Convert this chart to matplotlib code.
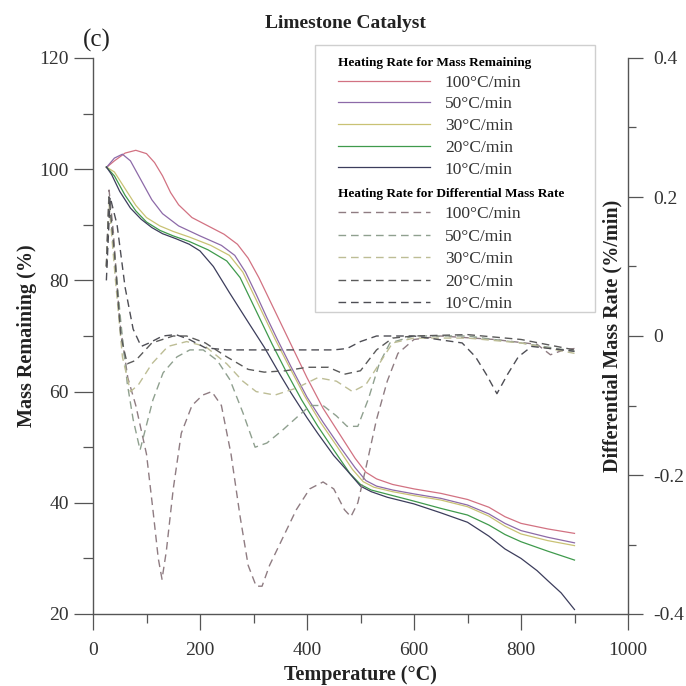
import matplotlib
matplotlib.use("Agg")
import matplotlib.pyplot as plt
from matplotlib.patches import Rectangle
from matplotlib.ticker import MultipleLocator

plt.rcParams['font.family'] = ['Liberation Serif', 'DejaVu Serif']
plt.rcParams['axes.unicode_minus'] = False

# ---------------- data ----------------
rates = ["100°C/min", "50°C/min", "30°C/min", "20°C/min", "10°C/min"]

# Mass remaining (%) vs temperature (°C)
m100_T = [25, 40, 60, 80, 100, 115, 130, 145, 160, 185, 215, 245, 270, 290, 310, 330, 350, 370, 400, 430, 460, 490, 510, 530, 560, 600, 650, 700, 740, 770, 800, 850, 900]
m100_M = [100.3, 101.5, 102.9, 103.4, 102.8, 101.2, 98.8, 95.8, 93.6, 91.3, 89.8, 88.3, 86.5, 84.0, 80.5, 76.5, 72.5, 68.5, 62.5, 57.0, 52.5, 48.0, 45.5, 44.3, 43.3, 42.5, 41.7, 40.6, 39.2, 37.5, 36.3, 35.3, 34.5]

m50_T = [25, 40, 55, 70, 90, 110, 130, 160, 200, 240, 265, 285, 305, 325, 345, 370, 400, 430, 460, 490, 510, 530, 560, 600, 650, 700, 740, 770, 800, 850, 900]
m50_M = [100.3, 102.0, 102.7, 101.5, 98.0, 94.5, 92.0, 89.8, 88.0, 86.3, 84.5, 81.5, 77.5, 73.3, 69.3, 64.5, 59.0, 54.5, 50.3, 46.3, 44.0, 43.0, 42.3, 41.6, 40.8, 39.6, 38.0, 36.3, 35.0, 33.8, 32.8]

m30_T = [25, 40, 60, 80, 100, 125, 150, 180, 220, 255, 280, 300, 320, 340, 365, 395, 425, 455, 485, 505, 525, 560, 600, 650, 700, 740, 770, 800, 850, 900]
m30_M = [100.4, 99.5, 96.5, 93.5, 91.3, 89.8, 88.8, 87.8, 86.3, 84.5, 81.5, 77.5, 73.5, 69.5, 64.8, 59.3, 54.5, 50.3, 46.0, 43.8, 42.8, 42.0, 41.3, 40.5, 39.3, 37.6, 35.8, 34.4, 33.2, 32.3]

m20_T = [25, 40, 60, 80, 100, 125, 150, 180, 215, 250, 275, 295, 315, 335, 360, 390, 420, 450, 480, 500, 520, 560, 600, 650, 700, 740, 770, 800, 850, 900]
m20_M = [100.4, 98.8, 95.3, 92.5, 90.5, 89.0, 88.0, 87.0, 85.5, 83.5, 80.5, 76.5, 72.5, 68.5, 63.8, 58.5, 53.8, 49.5, 45.3, 43.3, 42.3, 41.3, 40.3, 39.0, 37.8, 36.0, 34.3, 33.0, 31.3, 29.7]

m10_T = [25, 35, 50, 70, 90, 110, 130, 155, 180, 200, 225, 255, 290, 320, 350, 370, 400, 420, 450, 475, 500, 520, 550, 600, 650, 700, 740, 770, 800, 830, 850, 875, 900]
m10_M = [100.4, 99.0, 96.0, 93.0, 91.0, 89.5, 88.4, 87.5, 86.5, 85.3, 82.5, 77.8, 72.5, 68.0, 63.0, 59.8, 55.3, 52.5, 48.5, 45.8, 43.0, 42.0, 41.0, 39.8, 38.2, 36.5, 34.0, 31.7, 30.0, 27.8, 26.0, 23.8, 20.8]

# Differential mass rate (%/min) vs temperature (°C)
d100_T = [25, 30, 38, 50, 65, 80, 100, 112, 122, 129, 137, 150, 165, 185, 205, 222, 240, 258, 275, 290, 305, 316, 330, 355, 380, 405, 430, 450, 470, 482, 495, 510, 530, 550, 570, 600, 650, 750, 830, 855, 880, 900]
d100_D = [0.10, 0.21, 0.15, 0.02, -0.06, -0.10, -0.17, -0.25, -0.32, -0.35, -0.31, -0.22, -0.14, -0.10, -0.085, -0.08, -0.10, -0.17, -0.26, -0.33, -0.36, -0.36, -0.33, -0.29, -0.25, -0.22, -0.21, -0.22, -0.25, -0.26, -0.24, -0.19, -0.12, -0.065, -0.025, -0.005, 0.0, -0.005, -0.012, -0.027, -0.02, -0.018]

d50_T = [25, 30, 40, 52, 64, 75, 88, 101, 112, 131, 157, 181, 206, 232, 256, 280, 303, 325, 355, 381, 406, 430, 455, 475, 495, 515, 535, 555, 600, 700, 800, 900]
d50_D = [0.10, 0.20, 0.12, 0.02, -0.068, -0.12, -0.164, -0.125, -0.092, -0.053, -0.03, -0.02, -0.02, -0.035, -0.063, -0.11, -0.16, -0.154, -0.135, -0.117, -0.10, -0.10, -0.115, -0.13, -0.13, -0.09, -0.04, -0.01, 0.0, 0.0, -0.01, -0.022]

d30_T = [25, 30, 42, 55, 70, 85, 110, 140, 175, 210, 250, 280, 305, 340, 380, 420, 455, 485, 510, 535, 560, 600, 700, 800, 900]
d30_D = [0.10, 0.19, 0.08, -0.03, -0.08, -0.07, -0.04, -0.015, -0.008, -0.015, -0.04, -0.065, -0.08, -0.085, -0.075, -0.06, -0.065, -0.08, -0.07, -0.04, -0.01, -0.003, -0.003, -0.01, -0.025]

d20_T = [25, 30, 40, 52, 64, 80, 110, 150, 175, 210, 250, 290, 320, 360, 400, 440, 470, 500, 530, 560, 600, 700, 800, 900]
d20_D = [0.10, 0.20, 0.12, 0.0, -0.04, -0.035, -0.01, 0.0, 0.0, -0.01, -0.03, -0.048, -0.052, -0.05, -0.045, -0.045, -0.055, -0.05, -0.02, -0.003, 0.0, 0.002, -0.005, -0.02]

d10_T = [25, 32, 45, 60, 75, 90, 105, 130, 155, 180, 210, 250, 350, 450, 475, 500, 530, 600, 690, 715, 735, 755, 775, 795, 820, 900]
d10_D = [0.08, 0.20, 0.16, 0.07, 0.01, -0.015, -0.01, 0.0, 0.002, -0.005, -0.017, -0.02, -0.02, -0.02, -0.018, -0.008, 0.0, 0.0, -0.01, -0.03, -0.055, -0.083, -0.055, -0.03, -0.015, -0.022]

mass_T = [m100_T, m50_T, m30_T, m20_T, m10_T]
mass_M = [m100_M, m50_M, m30_M, m20_M, m10_M]
dtg_T = [d100_T, d50_T, d30_T, d20_T, d10_T]
dtg_D = [d100_D, d50_D, d30_D, d20_D, d10_D]

solid_colors = ['#d27282', '#8d6aa8', '#c9c274', '#3f9a4c', '#3c3d5c']
dash_colors = ['#8f7c82', '#8fa08f', '#bdbd95', '#5a5a5a', '#4e4e55']

# ---------------- figure ----------------
fig = plt.figure(figsize=(6.86, 6.86), dpi=100)
W = H = 686.0
ax = fig.add_axes([93 / W, 1 - 614 / H, 535 / W, 556 / H])
ax2 = ax.twinx()

for T, M, c, lab in zip(mass_T, mass_M, solid_colors, rates):
    ax.plot(T, M, color=c, lw=0.9, label=lab)
for T, D, c, lab in zip(dtg_T, dtg_D, dash_colors, rates):
    ax2.plot(T, D, color=c, lw=1.0, dashes=(5.5, 3.5), label=lab)

ax.set_xlim(0, 1000)
ax.set_ylim(20, 120)
ax2.set_ylim(-0.4, 0.4)
ax.xaxis.set_major_locator(MultipleLocator(200))
ax.xaxis.set_minor_locator(MultipleLocator(100))
ax.yaxis.set_major_locator(MultipleLocator(20))
ax.yaxis.set_minor_locator(MultipleLocator(10))
ax2.yaxis.set_minor_locator(MultipleLocator(0.1))
ax2.set_yticks([-0.4, -0.2, 0, 0.2, 0.4])
ax2.set_yticklabels(['-0.4', '-0.2', '0', '0.2', '0.4'])

spine_c = '#555555'
for a in (ax, ax2):
    a.spines['top'].set_visible(False)
    for s in a.spines.values():
        s.set_color(spine_c)
        s.set_linewidth(1.0)
ax.spines['right'].set_visible(False)
ax2.spines['left'].set_visible(False)
ax2.spines['bottom'].set_visible(False)

ax.tick_params(axis='x', which='major', direction='out', length=11.5, width=0.9, pad=9, labelsize=14, colors=spine_c, labelcolor='#333333')
ax.tick_params(axis='x', which='minor', direction='out', length=6.5, width=0.9, colors=spine_c)
ax.tick_params(axis='y', which='major', direction='out', length=14, width=0.9, pad=3.5, labelsize=14, colors=spine_c, labelcolor='#333333')
ax.tick_params(axis='y', which='minor', direction='out', length=7, width=0.9, colors=spine_c)
ax2.tick_params(axis='y', which='major', direction='out', length=11, width=0.9, pad=7, labelsize=14, colors=spine_c, labelcolor='#333333')
ax2.tick_params(axis='y', which='minor', direction='out', length=5.5, width=0.9, colors=spine_c)

ax.set_xlabel('Temperature (°C)', fontsize=14.5, fontweight='bold', color='#222222')
ax.xaxis.set_label_coords(0.5, -0.092)
ax.set_ylabel('Mass Remaining (%)', fontsize=14.5, fontweight='bold', color='#222222')
ax.yaxis.set_label_coords(-0.105, 0.5)
ax2.set_ylabel('Differential Mass Rate (%/min)', fontsize=14.5, fontweight='bold', color='#222222')
ax2.yaxis.set_label_coords(0.953, 0.5)

fig.text(345 / W, 1 - 24 / H, 'Limestone Catalyst', ha='center', va='center', fontsize=14, fontweight='bold', color='#222222')
fig.text(97 / W, 1 - 40 / H, '(c)', ha='center', va='center', fontsize=18, color='#222222')

# ---------------- legend ----------------
box = Rectangle((315 / W, 1 - 312 / H), 280 / W, 267 / H, transform=fig.transFigure,
                facecolor='white', edgecolor='#cfcfcf', lw=1.0, zorder=4)
fig.add_artist(box)

h1 = ax.get_lines()
h2 = ax2.get_lines()
common = dict(frameon=False, loc='upper left', fontsize=12.5, handlelength=5.3,
              handletextpad=0.85, borderpad=0, borderaxespad=0,
              alignment='left', title_fontproperties={'weight': 'bold', 'size': 9.5})
leg1 = fig.legend(h1, rates, bbox_to_anchor=(338 / W, 1 - 57 / H), labelspacing=0.32,
                  title='Heating Rate for Mass Remaining', **common)
leg2 = fig.legend(h2, rates, bbox_to_anchor=(338 / W, 1 - 188 / H), labelspacing=0.36,
                  title='Heating Rate for Differential Mass Rate', **common)
for lg in (leg1, leg2):
    lg.set_zorder(5)
    for t in lg.get_texts():
        t.set_color('#333333')

fig.savefig('out.png', dpi=100)
